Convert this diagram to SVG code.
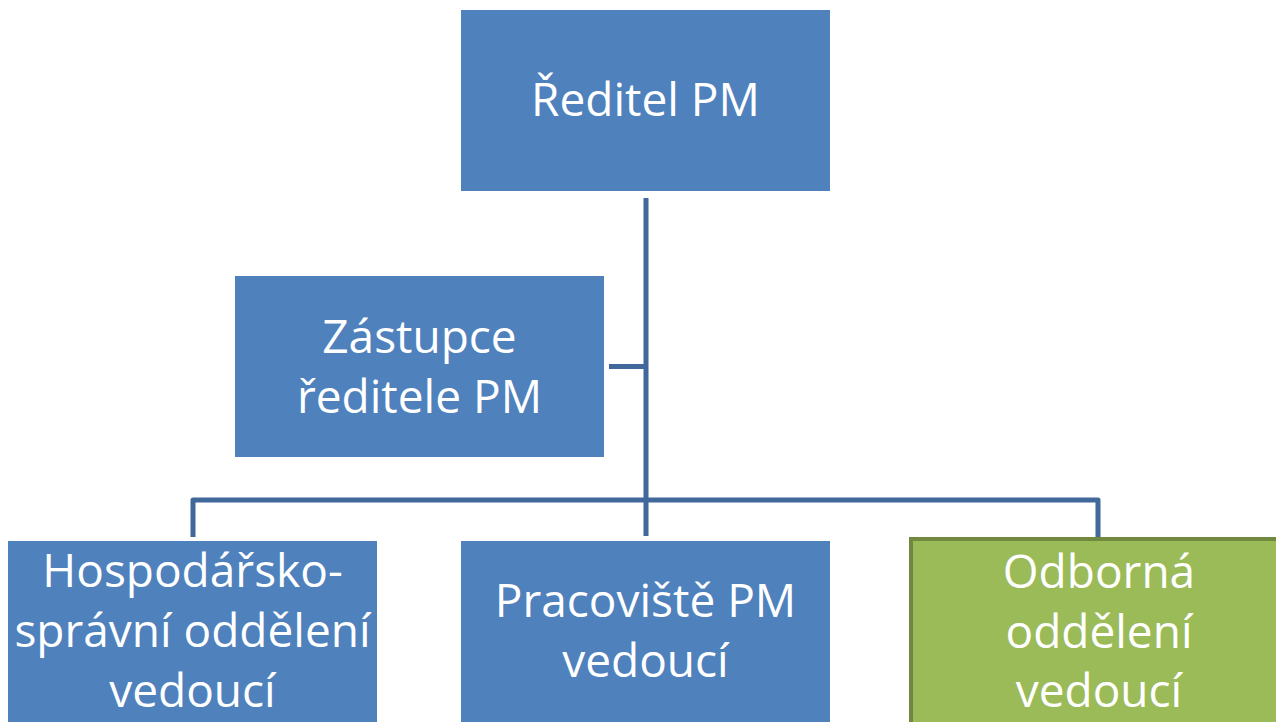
<svg xmlns="http://www.w3.org/2000/svg" width="1276" height="722" viewBox="0 0 1276 722">
<style>
.box{fill:#4F81BD;}
.green{fill:#9BBB59;stroke:#71893F;stroke-width:4;}
.t{font-family:"Open Sans","Liberation Sans",sans-serif;font-size:46px;fill:#FFFFFF;text-anchor:middle;}
.c{fill:none;stroke:#41689A;stroke-width:5;stroke-linejoin:round;}
</style>
<rect width="1276" height="722" fill="#FFFFFF"/>
<g id="connectors">
<path class="c" d="M646 198 V536"/>
<path class="c" d="M609 366.5 H646"/>
<path class="c" d="M193 537 V500 H1098 V537"/>
</g>
<g id="reditel">
<rect class="box" x="461" y="10" width="369" height="181"/>
<text class="t" x="645.5" y="116">Ředitel PM</text>
</g>
<g id="zastupce">
<rect class="box" x="235" y="276" width="369" height="181"/>
<text class="t" x="419.5" y="353">Zástupce</text>
<text class="t" x="419.5" y="413">ředitele PM</text>
</g>
<g id="hospodarsko">
<rect class="box" x="8" y="541" width="369" height="190"/>
<text class="t" x="192.5" y="587">Hospodářsko-</text>
<text class="t" x="192.5" y="647">správní oddělení</text>
<text class="t" x="192.5" y="707">vedoucí</text>
</g>
<g id="pracoviste">
<rect class="box" x="461" y="541" width="369" height="190"/>
<text class="t" x="645.5" y="617">Pracoviště PM</text>
<text class="t" x="645.5" y="677">vedoucí</text>
</g>
<g id="odborna">
<rect class="green" x="911" y="539" width="369" height="190"/>
<text class="t" x="1099" y="588">Odborná</text>
<text class="t" x="1099" y="648">oddělení</text>
<text class="t" x="1099" y="707">vedoucí</text>
</g>
</svg>
